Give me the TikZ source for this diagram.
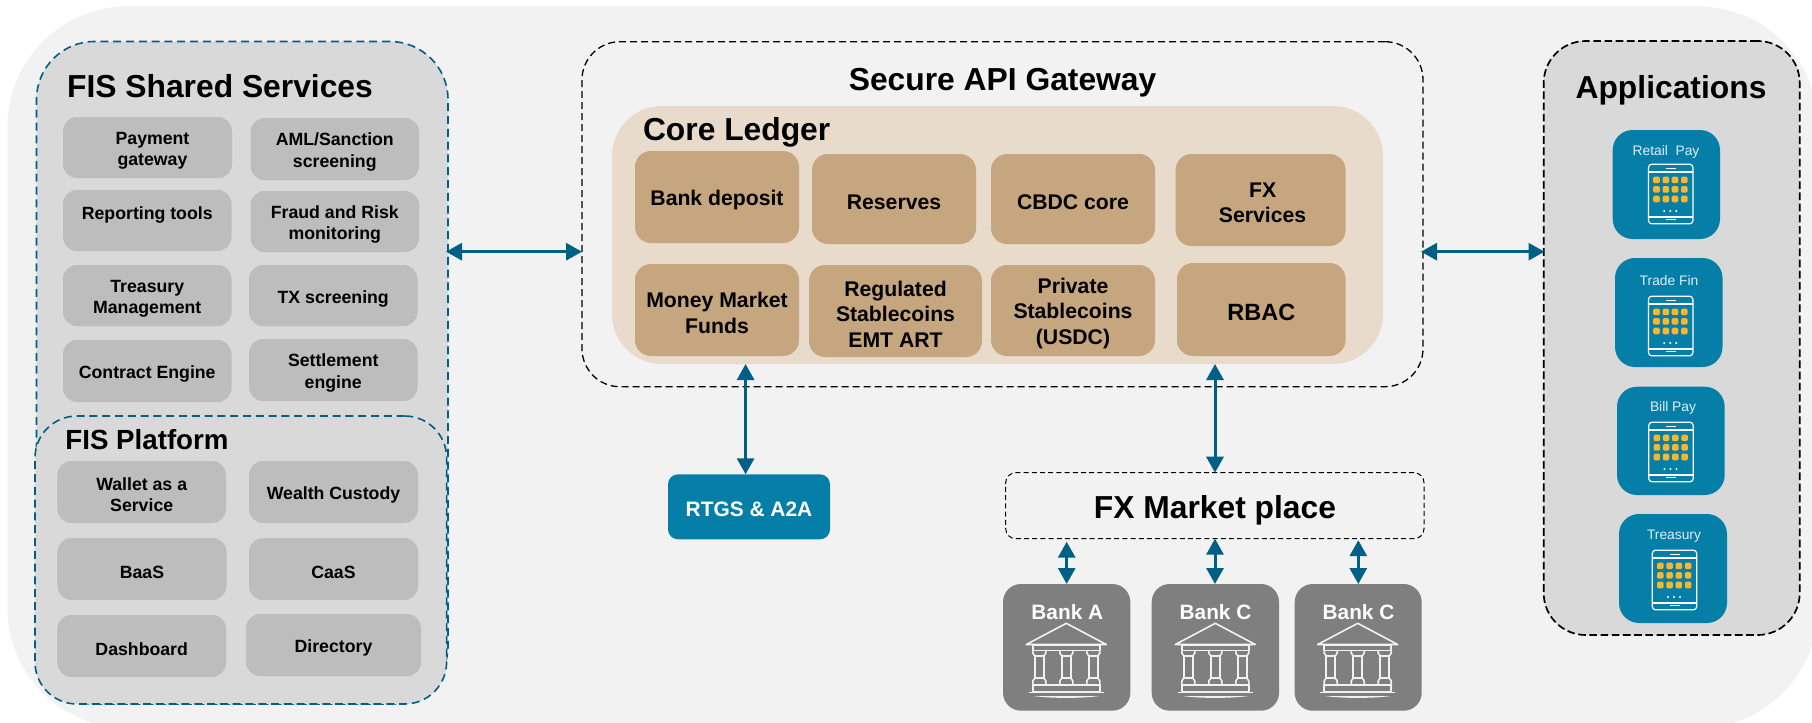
\documentclass[tikz,border=0pt]{standalone}
\usepackage{fontspec}
\setmainfont{Liberation Sans}
\usetikzlibrary{arrows.meta,calc}
\definecolor{bgc}{HTML}{F2F2F2}
\definecolor{panelc}{HTML}{D9D9D9}
\definecolor{greyc}{HTML}{BDBDBD}
\definecolor{corec}{HTML}{E8DBCB}
\definecolor{tanc}{HTML}{C6A67F}
\definecolor{tealc}{HTML}{057FA7}
\definecolor{arrowc}{HTML}{005F85}
\definecolor{bankc}{HTML}{7F7F7F}
\definecolor{dotc}{HTML}{FBB62B}
\definecolor{labelc}{HTML}{DFEEF4}
\newcommand\fpx[2]{\fontsize{#1}{#2}\selectfont}
\tikzset{
  x=0.5pt,y=-0.5pt,
  plain/.style={inner sep=0pt,outer sep=0pt,align=center,text=black},
  tealdash/.style={plain,draw=arrowc,line width=0.8pt,dash pattern=on 4pt off 2.4pt},
  blackdash/.style={plain,draw=black,line width=0.65pt,dash pattern=on 3.5pt off 2pt},
  sharedpanel/.style={tealdash,fill=panelc,rounded corners=29pt},
  platformpanel/.style={tealdash,fill=panelc,rounded corners=21pt},
  gatewaypanel/.style={blackdash,rounded corners=19pt},
  appspanel/.style={blackdash,line width=0.85pt,dash pattern=on 3.8pt off 1.8pt,fill=panelc,rounded corners=21pt},
  marketpanel/.style={blackdash,line width=0.5pt,dash pattern=on 2.5pt off 1.6pt,rounded corners=5pt},
  corepanel/.style={plain,fill=corec,rounded corners=25pt},
  greybox/.style={plain,fill=greyc,rounded corners=7pt,font=\bfseries\fpx{8.85}{10.65}},
  tanbox/.style={plain,fill=tanc,rounded corners=8pt,font=\bfseries\fpx{10.6}{12.7}},
  tealbox/.style={plain,fill=tealc,rounded corners=5pt,text=white,font=\bfseries\fpx{10.45}{13}},
  banktile/.style={plain,fill=bankc,rounded corners=9pt},
  apptile/.style={plain,fill=tealc,rounded corners=10pt},
  banklabel/.style={plain,text=white,font=\bfseries\fpx{10.4}{12},anchor=base},
  applabel/.style={plain,text=labelc,font=\fpx{6.9}{8}},
  bigtitle/.style={plain,font=\bfseries\fpx{15.9}{18},anchor=base},
  midtitle/.style={plain,font=\bfseries\fpx{13.85}{16},anchor=base},
  biarrow/.style={draw=arrowc,line width=1.5pt,{Triangle[length=8pt,width=8.5pt,fill=arrowc]}-{Triangle[length=8pt,width=8.5pt,fill=arrowc]}},
  iconline/.style={draw=white,line width=0.6pt,line join=round},
  bankline/.style={draw=bgc,line width=0.8pt,line join=round},
}
% a shape given by its corners, with nothing in it
\newcommand\bx[6]{\node[#1,minimum width={(#5-#3)*0.5pt},minimum height={(#6-#4)*0.5pt}] (#2) at ({(#3+#5)/2},{(#4+#6)/2}) {};}
% the same shape with its words a little below the middle, as the picture has them
\newcommand\tb[7]{\bx{#1}{#2}{#3}{#4}{#5}{#6}\node[#1,fill=none,yshift=-1.5pt] (#2text) at (#2) {#7};}
\newcommand\phoneicon[2]{%
  \begin{scope}[shift={(#1,#2)}]
    \draw[iconline,rounded corners=1.6pt] (-22.2,-29.8) rectangle (22.2,29.8);
    \draw[iconline] (-22.2,-22) -- (22.2,-22) (-22.2,23) -- (22.2,23);
    \draw[iconline] (-5,-25.8) -- (5,-25.8) (-5,25.8) -- (5,25.8);
    \foreach \dx in {-14.2,-4.9,4.3,13.6}
      \foreach \dy in {-14.1,-4.6,5}
        \fill[dotc,rounded corners=0.7pt] (\dx-3.3,\dy-3.3) rectangle (\dx+3.3,\dy+3.3);
    \foreach \dx in {-6.5,-0.5,5.5}
      \fill[white] (\dx,17) circle (0.55pt);
  \end{scope}}
\newcommand\bankicon[1]{%
  \begin{scope}[shift={(#1,0)}]
    \draw[bankline] (-40,644.5) -- (0,623.3) -- (40,644.5) -- cycle;
    \draw[bankline] (-33.5,645) rectangle (33.5,650.5);
    \foreach \cx in {-27,0,27}{
      \draw[bankline] (\cx-4.5,656) -- (\cx-4.5,678) (\cx+4.5,656) -- (\cx+4.5,678);
      \draw[bankline] (\cx-6.5,650.5) -- (\cx-6.5,653) -- (\cx-4.5,656) -- (\cx+4.5,656) -- (\cx+6.5,653) -- (\cx+6.5,650.5);
      \draw[bankline] (\cx-6.5,685) -- (\cx-6.5,681) -- (\cx-4.5,678) -- (\cx+4.5,678) -- (\cx+6.5,681) -- (\cx+6.5,685);
    }
    \draw[bankline] (-33.5,685) rectangle (33.5,691.5);
    \draw[bankline] (-37.5,692.3) -- (37.5,692.3);
    \fill[bgc] (-33,696) .. controls (-15,698.5) and (15,698.5) .. (33,696) -- cycle;
  \end{scope}}
\begin{document}
\begin{tikzpicture}
\useasboundingbox (0,0) rectangle (1812,723);
\clip (0,0) rectangle (1812,723);
\fill[bgc,rounded corners=60pt] (7.5,6.5) rectangle (1818,728);

% FIS Shared Services
\bx{sharedpanel}{shared}{36.5}{41.5}{448}{704}
\node[bigtitle] (sharedtitle) at (220,97) {FIS Shared Services};
\tb{greybox}{payment}{63}{117}{232}{178}{\hspace*{5pt}Payment\\\hspace*{5pt}gateway}
\tb{greybox}{aml}{250.6}{118}{419}{180}{AML/Sanction\\screening}
\tb{greybox}{reporting}{63}{190}{231.5}{251}{Reporting tools\\~}
\tb{greybox}{fraud}{250.6}{191}{419}{252}{Fraud and Risk\\monitoring}
\tb{greybox}{treasurymgmt}{63}{265}{231.5}{326}{Treasury\\Management}
\tb{greybox}{txscreen}{249}{265}{417.5}{326}{TX screening}
\tb{greybox}{contract}{63}{340}{231.5}{402}{Contract Engine}
\tb{greybox}{settlement}{249}{339}{417.5}{401}{Settlement\\engine}

% FIS Platform
\bx{platformpanel}{platform}{35}{416}{446.6}{704}
\node[midtitle] (platformtitle) at (147,449) {FIS Platform};
\tb{greybox}{wallet}{57.4}{461}{226}{523}{Wallet as a\\Service}
\tb{greybox}{wealth}{249}{461}{418}{523}{Wealth Custody}
\tb{greybox}{baas}{57.4}{538}{226.5}{600}{BaaS}
\tb{greybox}{caas}{249}{538}{418}{600}{CaaS}
\tb{greybox}{dashboard}{57.4}{615}{226}{677}{Dashboard}
\tb{greybox}{directory}{246}{614}{421}{676}{Directory}

% Gateway and core ledger
\bx{gatewaypanel}{gateway}{582}{41.7}{1423}{386.7}
\node[bigtitle] (gatewaytitle) at (1002.6,90) {Secure API Gateway};
\bx{corepanel}{core}{612}{106}{1383}{364}
\node[bigtitle,anchor=base west] (coretitle) at (643,140) {Core Ledger};
\tb{tanbox}{deposit}{635}{151}{799}{243}{Bank deposit}
\tb{tanbox}{reserves}{812}{154}{976}{244}{Reserves}
\tb{tanbox}{cbdc}{991}{154}{1155}{244}{CBDC core}
\tb{tanbox}{fxservices}{1175.6}{154}{1345.6}{246}{\hspace*{2pt}FX\\\hspace*{2pt}Services}
\tb{tanbox}{mmf}{635}{264}{799}{356}{Money Market\\Funds}
\tb{tanbox}{regulated}{809}{265}{982}{357}{Regulated\\Stablecoins\\EMT ART}
\tb{tanbox}{private}{991}{265}{1155}{356}{Private\\Stablecoins\\(USDC)}
\tb{tanbox}{rbac}{1177}{263}{1345.6}{356}{\fpx{11.75}{14}RBAC}

% RTGS
\tb{tealbox}{rtgs}{668}{474.3}{830}{539.3}{\raisebox{1pt}{RTGS \& A2A}}

% FX market and banks
\bx{marketpanel}{market}{1005.7}{472.7}{1424}{538.7}
\node[bigtitle] (markettitle) at (1215,518) {FX Market place};
\bx{banktile}{banka}{1003}{584}{1130.3}{710.7}
\bx{banktile}{bankc}{1151.7}{584}{1279}{710.7}
\bx{banktile}{bankd}{1294.7}{584}{1421.7}{710.7}
\node[banklabel] (bankatext) at (1067.3,619.7) {Bank A};
\node[banklabel] (bankctext) at (1215.5,619.7) {Bank C};
\node[banklabel] (bankdtext) at (1358.5,619.7) {Bank C};
\bankicon{1066.3}
\bankicon{1215.3}
\bankicon{1357.7}

% Applications
\bx{appspanel}{apps}{1543.7}{41}{1799.7}{635}
\node[bigtitle] (appstitle) at (1671,98.7) {Applications};
\bx{apptile}{retail}{1612.7}{130}{1720}{239}
\bx{apptile}{trade}{1615}{258}{1722.5}{367}
\bx{apptile}{bill}{1617}{386.7}{1724.7}{495}
\bx{apptile}{treasuryapp}{1619}{514}{1727}{623}
\node[applabel] (retailtext) at (1666,152) {Retail\ \ Pay};
\node[applabel] (tradetext) at (1669,280.5) {Trade Fin};
\node[applabel] (billtext) at (1673,408) {Bill Pay};
\node[applabel] (treasurytext) at (1674,536) {Treasury};
\phoneicon{1670.7}{194}
\phoneicon{1670.7}{326}
\phoneicon{1671}{452}
\phoneicon{1674.5}{580}

% Connectors
\coordinate (rowarrows) at (0,251.7);
\coordinate (colrtgs) at (745.6,0);
\coordinate (colfx) at (1215,0);
\coordinate (colbanka) at (1066.7,0);
\coordinate (colbankd) at (1358.3,0);
\draw[biarrow,shorten <=-1pt] (shared.east |- rowarrows) -- (gateway.west |- rowarrows);
\draw[biarrow,shorten <=-1pt,shorten >=-0.4pt] (gateway.east |- rowarrows) -- (apps.west |- rowarrows);
\draw[biarrow] (core.south -| colrtgs) -- (rtgs.north -| colrtgs);
\draw[biarrow] (core.south -| colfx) -- (market.north -| colfx);
\draw[biarrow] ($(market.south -| colbanka)+(0,3)$) -- (banka.north -| colbanka);
\draw[biarrow] (market.south -| colfx) -- (bankc.north -| colfx);
\draw[biarrow] ($(market.south -| colbankd)+(0,1.5)$) -- (bankd.north -| colbankd);
\end{tikzpicture}
\end{document}
